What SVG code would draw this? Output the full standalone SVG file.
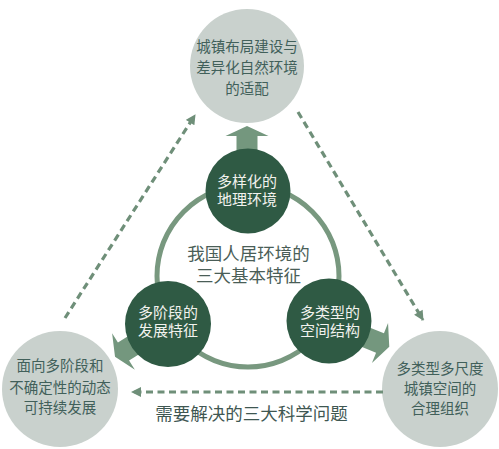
<svg xmlns="http://www.w3.org/2000/svg" width="499" height="449" viewBox="0 0 499 449">
<style>
.light{fill:#c9d1cd}
.dark{fill:#2f5a44}
.ring{fill:none;stroke:#78987f;stroke-width:5}
.blk{fill:#74977e}
.dash{fill:none;stroke:#6f8f79;stroke-width:3.2;stroke-dasharray:7 4.5}
text{font-family:"Noto Sans CJK SC","Noto Sans",sans-serif;text-anchor:middle}
.lt{font-size:14.5px;fill:#41605a}
.dt{font-size:15px;fill:#f2f2ee}
.ct{font-size:17.5px;fill:#4a5e57}
.bt{font-size:17.5px;fill:#3f5752}
</style>
<defs>
<marker id="ah" viewBox="0 0 10 10" refX="9" refY="5" markerWidth="11" markerHeight="10" markerUnits="userSpaceOnUse" orient="auto">
<path d="M0,0 L10,5 L0,10 Z" fill="#6f8f79"/>
</marker>
<g id="barrow">
<path d="M0,-10 L21.5,0 L10.5,0 L10.5,25 L-10.5,25 L-10.5,0 L-21.5,0 Z"/>
</g>
</defs>
<g id="node-top-goal">
<circle class="light" cx="247" cy="66" r="57"/>
<text class="lt" x="247" y="52">城镇布局建设与</text>
<text class="lt" x="247" y="73">差异化自然环境</text>
<text class="lt" x="247" y="94">的适配</text>
</g>
<g id="node-left-goal">
<circle class="light" cx="60" cy="389" r="58"/>
<text class="lt" x="60" y="370.5">面向多阶段和</text>
<text class="lt" x="60" y="392.5">不确定性的动态</text>
<text class="lt" x="60" y="412.5">可持续发展</text>
</g>
<g id="node-right-goal">
<circle class="light" cx="440" cy="389" r="58"/>
<text class="lt" x="440" y="374">多类型多尺度</text>
<text class="lt" x="440" y="393.5">城镇空间的</text>
<text class="lt" x="440" y="414">合理组织</text>
</g>
<g id="connectors">
<path class="dash" d="M65,318 L195,115" marker-end="url(#ah)"/>
<path class="dash" d="M298,112 L423,320" marker-end="url(#ah)"/>
<path class="dash" d="M383,392 L132,392" marker-end="url(#ah)"/>
<g class="blk">
<use href="#barrow" transform="translate(247,136)"/>
<use href="#barrow" transform="translate(123.5,351.5) rotate(-122)"/>
<use href="#barrow" transform="translate(380,343) rotate(112)"/>
</g>
</g>
<g id="node-center">
<circle class="ring" cx="248" cy="276" r="91"/>
<text class="ct" x="248.5" y="259.5">我国人居环境的</text>
<text class="ct" x="248.5" y="281.5">三大基本特征</text>
</g>
<g id="node-top">
<circle class="dark" cx="248" cy="191" r="42.5"/>
<text class="dt" x="247" y="186.5">多样化的</text>
<text class="dt" x="247" y="204.5">地理环境</text>
</g>
<g id="node-left">
<circle class="dark" cx="168" cy="324" r="43"/>
<text class="dt" x="168" y="317.5">多阶段的</text>
<text class="dt" x="168" y="335.5">发展特征</text>
</g>
<g id="node-right">
<circle class="dark" cx="329" cy="321" r="42.5"/>
<text class="dt" x="330" y="317.5">多类型的</text>
<text class="dt" x="330" y="335.5">空间结构</text>
</g>
<g id="label-bottom">
<text class="bt" x="251.5" y="419.5">需要解决的三大科学问题</text>
</g>
</svg>
